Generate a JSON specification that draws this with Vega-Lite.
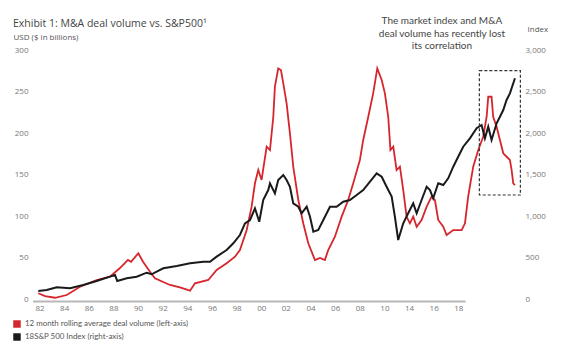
{
  "$schema": "https://vega.github.io/schema/vega-lite/v6.json",
  "width": 488,
  "height": 249,
  "autosize": {"type": "none"},
  "padding": {"left": 33, "top": 50, "right": 59, "bottom": 57},
  "config": {
    "font": "Open Sans",
    "view": {"stroke": null},
    "axis": {"grid": false, "ticks": false, "domain": false, "labelFontSize": 8, "labelColor": "#777", "labelFont": "Open Sans"}
  },
  "title": {
    "text": "Exhibit 1: M&A deal volume vs. S&P500¹",
    "anchor": "start",
    "frame": "group",
    "dx": -20,
    "offset": -13,
    "fontSize": 10.5,
    "fontWeight": "normal",
    "color": "#444",
    "font": "Open Sans"
  },
  "datasets": {
    "deal": [
      {"t": 1981.86, "v": 6.9}, {"t": 1982.41, "v": 3.6}, {"t": 1983.22, "v": 1.5}, {"t": 1984.17, "v": 4.8},
      {"t": 1985.25, "v": 14.8}, {"t": 1986.6, "v": 22.9}, {"t": 1987.68, "v": 26.9}, {"t": 1988.49, "v": 37.3},
      {"t": 1989.14, "v": 47.0}, {"t": 1989.39, "v": 44.9}, {"t": 1989.98, "v": 55.1}, {"t": 1990.36, "v": 44.9},
      {"t": 1990.93, "v": 32.9}, {"t": 1991.33, "v": 24.9}, {"t": 1992.55, "v": 16.9}, {"t": 1993.36, "v": 14.1},
      {"t": 1994.18, "v": 10.0}, {"t": 1994.58, "v": 18.9}, {"t": 1995.66, "v": 22.9}, {"t": 1996.34, "v": 34.9},
      {"t": 1997.15, "v": 43.0}, {"t": 1997.83, "v": 51.0}, {"t": 1998.23, "v": 59.0}, {"t": 1998.78, "v": 83.1},
      {"t": 1999.18, "v": 111.2}, {"t": 1999.45, "v": 139.4}, {"t": 1999.72, "v": 155.4}, {"t": 1999.99, "v": 143.4},
      {"t": 2000.4, "v": 183.5}, {"t": 2000.67, "v": 179.5}, {"t": 2000.94, "v": 219.6}, {"t": 2001.07, "v": 255.8},
      {"t": 2001.34, "v": 277.9}, {"t": 2001.56, "v": 275.9}, {"t": 2001.75, "v": 259.9}, {"t": 2002.02, "v": 235.8},
      {"t": 2002.29, "v": 199.6}, {"t": 2002.56, "v": 159.4}, {"t": 2002.97, "v": 119.3}, {"t": 2003.37, "v": 91.2},
      {"t": 2003.78, "v": 67.1}, {"t": 2004.32, "v": 47.0}, {"t": 2004.73, "v": 49.4}, {"t": 2005.13, "v": 47.0},
      {"t": 2005.4, "v": 59.0}, {"t": 2005.94, "v": 75.1}, {"t": 2006.49, "v": 99.2}, {"t": 2007.02, "v": 119.3},
      {"t": 2007.43, "v": 139.4}, {"t": 2007.97, "v": 167.5}, {"t": 2008.24, "v": 191.6}, {"t": 2008.65, "v": 219.6},
      {"t": 2009.05, "v": 247.8}, {"t": 2009.38, "v": 277.9}, {"t": 2009.74, "v": 263.9}, {"t": 2010.0, "v": 247.8},
      {"t": 2010.27, "v": 219.6}, {"t": 2010.45, "v": 179.5}, {"t": 2010.68, "v": 183.5}, {"t": 2010.95, "v": 155.4},
      {"t": 2011.22, "v": 159.4}, {"t": 2011.49, "v": 131.3}, {"t": 2011.76, "v": 99.2}, {"t": 2012.03, "v": 91.2},
      {"t": 2012.3, "v": 99.2}, {"t": 2012.58, "v": 87.1}, {"t": 2012.98, "v": 95.2}, {"t": 2013.39, "v": 111.2},
      {"t": 2013.79, "v": 123.3}, {"t": 2014.06, "v": 119.3}, {"t": 2014.33, "v": 95.2}, {"t": 2014.74, "v": 87.1},
      {"t": 2015.01, "v": 77.1}, {"t": 2015.55, "v": 83.1}, {"t": 2016.23, "v": 83.1}, {"t": 2016.5, "v": 91.2},
      {"t": 2016.76, "v": 123.3}, {"t": 2017.17, "v": 159.4}, {"t": 2017.58, "v": 179.5}, {"t": 2017.98, "v": 195.5},
      {"t": 2018.26, "v": 219.6}, {"t": 2018.39, "v": 243.7}, {"t": 2018.66, "v": 243.7}, {"t": 2018.79, "v": 219.6},
      {"t": 2019.07, "v": 207.6}, {"t": 2019.34, "v": 191.6}, {"t": 2019.61, "v": 175.5}, {"t": 2019.88, "v": 171.4},
      {"t": 2020.15, "v": 167.5}, {"t": 2020.29, "v": 155.4}, {"t": 2020.42, "v": 139.4}, {"t": 2020.56, "v": 137.3}
    ],
    "spx": [
      {"t": 1981.86, "v": 96}, {"t": 1982.54, "v": 108}, {"t": 1983.36, "v": 141}, {"t": 1984.44, "v": 129},
      {"t": 1985.51, "v": 169}, {"t": 1986.6, "v": 217}, {"t": 1987.68, "v": 269}, {"t": 1988.09, "v": 289},
      {"t": 1988.27, "v": 217}, {"t": 1989.04, "v": 249}, {"t": 1989.85, "v": 269}, {"t": 1990.66, "v": 317},
      {"t": 1991.07, "v": 298}, {"t": 1991.47, "v": 329}, {"t": 1992.01, "v": 370}, {"t": 1993.1, "v": 398},
      {"t": 1994.18, "v": 430}, {"t": 1995.26, "v": 449}, {"t": 1995.8, "v": 449}, {"t": 1996.34, "v": 510},
      {"t": 1997.15, "v": 590}, {"t": 1997.69, "v": 671}, {"t": 1998.23, "v": 771}, {"t": 1998.64, "v": 912},
      {"t": 1999.05, "v": 952}, {"t": 1999.45, "v": 1093}, {"t": 1999.8, "v": 931}, {"t": 2000.12, "v": 1193},
      {"t": 2000.53, "v": 1313}, {"t": 2000.67, "v": 1394}, {"t": 2001.07, "v": 1273}, {"t": 2001.34, "v": 1434},
      {"t": 2001.75, "v": 1494}, {"t": 2002.02, "v": 1434}, {"t": 2002.29, "v": 1353}, {"t": 2002.56, "v": 1153},
      {"t": 2002.97, "v": 1112}, {"t": 2003.24, "v": 1033}, {"t": 2003.65, "v": 1112}, {"t": 2003.92, "v": 992},
      {"t": 2004.19, "v": 811}, {"t": 2004.59, "v": 831}, {"t": 2005.0, "v": 952}, {"t": 2005.54, "v": 1112},
      {"t": 2006.08, "v": 1112}, {"t": 2006.62, "v": 1172}, {"t": 2007.16, "v": 1193}, {"t": 2007.71, "v": 1253},
      {"t": 2008.24, "v": 1313}, {"t": 2008.79, "v": 1413}, {"t": 2009.33, "v": 1514}, {"t": 2009.74, "v": 1473},
      {"t": 2010.14, "v": 1353}, {"t": 2010.55, "v": 1233}, {"t": 2010.81, "v": 992}, {"t": 2011.08, "v": 711},
      {"t": 2011.49, "v": 912}, {"t": 2011.89, "v": 1033}, {"t": 2012.3, "v": 1153}, {"t": 2012.58, "v": 1033},
      {"t": 2012.98, "v": 1193}, {"t": 2013.39, "v": 1353}, {"t": 2013.66, "v": 1313}, {"t": 2013.92, "v": 1213},
      {"t": 2014.33, "v": 1394}, {"t": 2014.74, "v": 1373}, {"t": 2015.14, "v": 1454}, {"t": 2015.55, "v": 1594},
      {"t": 2015.95, "v": 1714}, {"t": 2016.36, "v": 1835}, {"t": 2016.9, "v": 1936}, {"t": 2017.45, "v": 2057},
      {"t": 2017.85, "v": 2096}, {"t": 2018.12, "v": 1936}, {"t": 2018.39, "v": 2076}, {"t": 2018.66, "v": 1916},
      {"t": 2019.07, "v": 2117}, {"t": 2019.34, "v": 2196}, {"t": 2019.61, "v": 2277}, {"t": 2019.88, "v": 2398},
      {"t": 2020.15, "v": 2478}, {"t": 2020.56, "v": 2659}
    ],
    "xlabels": [
      {"t": 1982, "lab": "82"}, {"t": 1984, "lab": "84"}, {"t": 1986, "lab": "86"}, {"t": 1988, "lab": "88"},
      {"t": 1990, "lab": "90"}, {"t": 1992, "lab": "92"}, {"t": 1994, "lab": "94"}, {"t": 1996, "lab": "96"},
      {"t": 1998, "lab": "98"}, {"t": 2000, "lab": "00"}, {"t": 2002, "lab": "02"}, {"t": 2004, "lab": "04"},
      {"t": 2006, "lab": "06"}, {"t": 2008, "lab": "08"}, {"t": 2010, "lab": "10"}, {"t": 2012, "lab": "14"},
      {"t": 2014, "lab": "16"}, {"t": 2016, "lab": "18"}
    ]
  },
  "layer": [
    {
      "data": {"values": [{"t0": 1981.43, "t1": 2016.55}]},
      "mark": {"type": "rule", "color": "#b8b8b8", "strokeWidth": 2, "yOffset": 2.5},
      "encoding": {
        "x": {"field": "t0", "type": "quantitative", "axis": null},
        "x2": {"field": "t1"},
        "y": {"datum": 0, "type": "quantitative", "scale": {"domain": [0, 300], "nice": false}, "axis": null}
      }
    },
    {
      "data": {"name": "deal"},
      "mark": {"type": "line", "strokeWidth": 1.8},
      "encoding": {
        "x": {
          "field": "t", "type": "quantitative",
          "scale": {"domain": [1981.43, 2021.05], "nice": false, "zero": false},
          "axis": null
        },
        "y": {
          "field": "v", "type": "quantitative",
          "scale": {"domain": [0, 300], "nice": false},
          "axis": {
            "orient": "left",
            "values": [0, 50, 100, 150, 200, 250, 300],
            "format": "d",
            "labelPadding": 5,
            "title": "USD ($ in billions)",
            "titleAngle": 0,
            "titleX": -20,
            "titleY": -13,
            "titleAlign": "left",
            "titleBaseline": "middle",
            "titleFontSize": 8,
            "titleFontWeight": "normal",
            "titleColor": "#555"
          }
        },
        "color": {
          "datum": "12 month rolling average deal volume (left-axis)",
          "type": "nominal",
          "scale": {
            "domain": ["12 month rolling average deal volume (left-axis)", "18S&P 500 Index (right-axis)"],
            "range": ["#d6262d", "#1a1a1a"]
          },
          "legend": {
            "title": null,
            "orient": "none",
            "legendX": -20,
            "legendY": 270,
            "symbolType": "square",
            "symbolSize": 56,
            "labelFont": "Lato",
            "labelFontSize": 7.9,
            "labelColor": "#555",
            "labelOffset": 4,
            "labelLimit": 0,
            "rowPadding": 5,
            "encode": {
              "symbols": {
                "update": {
                  "fill": {"scale": "color", "field": "value"},
                  "fillOpacity": {"value": 1},
                  "strokeWidth": {"value": 0}
                }
              }
            }
          }
        }
      }
    },
    {
      "data": {"name": "spx"},
      "mark": {"type": "line", "strokeWidth": 2},
      "encoding": {
        "x": {"field": "t", "type": "quantitative", "axis": null},
        "y": {
          "field": "v", "type": "quantitative",
          "scale": {"domain": [0, 3000], "nice": false},
          "axis": {
            "orient": "right",
            "values": [0, 500, 1000, 1500, 2000, 2500, 3000],
            "format": ",d",
            "labelPadding": 4,
            "title": "Index",
            "titleAngle": 0,
            "titleX": 6,
            "titleY": -21,
            "titleAlign": "left",
            "titleBaseline": "middle",
            "titleFontSize": 8,
            "titleFontWeight": "normal",
            "titleColor": "#555"
          }
        },
        "color": {"datum": "18S&P 500 Index (right-axis)", "type": "nominal"}
      }
    },
    {
      "data": {"name": "xlabels"},
      "mark": {"type": "text", "align": "center", "baseline": "top", "dy": 6, "fontSize": 8, "color": "#777", "font": "Open Sans"},
      "encoding": {
        "x": {"field": "t", "type": "quantitative", "axis": null},
        "y": {"datum": 0, "type": "quantitative", "scale": {"domain": [0, 300], "nice": false}, "axis": null},
        "text": {"field": "lab"}
      }
    },
    {
      "data": {"values": [{"t0": 2017.67, "t1": 2021.0, "v0": 125.3, "v1": 275.1}]},
      "mark": {"type": "rect", "fill": null, "stroke": "#333", "strokeDash": [3, 2], "strokeWidth": 1.2},
      "encoding": {
        "x": {"field": "t0", "type": "quantitative", "axis": null},
        "x2": {"field": "t1"},
        "y": {"field": "v0", "type": "quantitative", "scale": {"domain": [0, 300], "nice": false}, "axis": null},
        "y2": {"field": "v1"}
      }
    },
    {
      "data": {"values": [{"t": 2014.63, "v": 340.4, "label": "The market index and M&A\ndeal volume has recently lost\nits correlation"}]},
      "mark": {"type": "text", "align": "center", "baseline": "top", "lineBreak": "\n", "fontSize": 10, "lineHeight": 12.5, "color": "#444", "font": "Lato"},
      "encoding": {
        "x": {"field": "t", "type": "quantitative", "axis": null},
        "y": {"field": "v", "type": "quantitative", "scale": {"domain": [0, 300], "nice": false}, "axis": null},
        "text": {"field": "label"}
      }
    }
  ],
  "resolve": {"scale": {"y": "independent"}}
}
